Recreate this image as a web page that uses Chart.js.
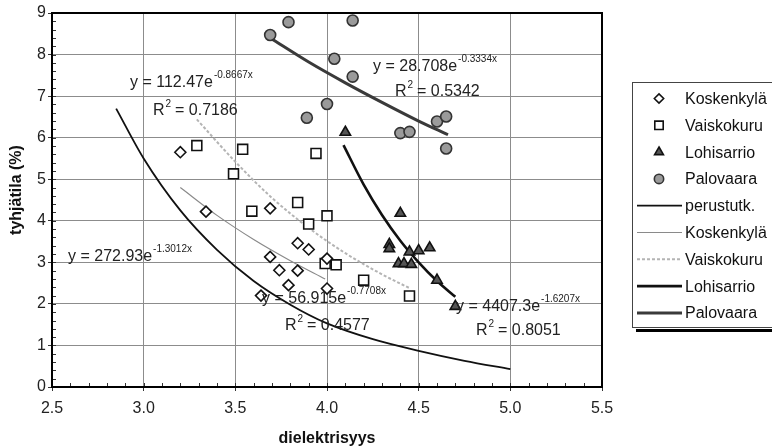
<!DOCTYPE html>
<html>
<head>
<meta charset="utf-8">
<script src="https://cdn.jsdelivr.net/npm/chart.js@4.4.0/dist/chart.umd.min.js"></script>
<style>
html, body { margin: 0; padding: 0; background: #fff; }
#wrap { width: 772px; height: 448px; }
</style>
</head>
<body>
<div id="wrap"><canvas id="chart" width="772" height="448"></canvas></div>
<script>
// measured points (dielektrisyys, tyhjätila %)
var koskenX = [3.2, 3.34, 3.69, 3.84, 3.9, 3.69, 3.74, 3.84, 3.79, 4.0, 3.64, 4.0];
var koskenY = [5.65, 4.22, 4.3, 3.46, 3.31, 3.13, 2.81, 2.8, 2.45, 2.37, 2.2, 3.09];

var vaiskoX = [3.29, 3.54, 3.94, 3.49, 3.59, 3.84, 4.0, 3.9, 3.99, 4.05, 4.2, 4.45];
var vaiskoY = [5.81, 5.72, 5.62, 5.13, 4.23, 4.44, 4.12, 3.92, 2.97, 2.94, 2.57, 2.19];

var lohiX = [4.1, 4.4, 4.34, 4.34, 4.45, 4.5, 4.56, 4.39, 4.42, 4.46, 4.6, 4.7];
var lohiY = [6.13, 4.18, 3.43, 3.33, 3.25, 3.28, 3.35, 2.97, 2.97, 2.95, 2.57, 1.94];

var paloX = [3.69, 3.79, 4.14, 4.04, 4.14, 4.0, 3.89, 4.4, 4.45, 4.6, 4.65, 4.65];
var paloY = [8.47, 8.78, 8.82, 7.9, 7.47, 6.81, 6.48, 6.11, 6.14, 6.39, 6.51, 5.74];

// trend curves
var perusX = [2.85, 3.0, 3.2, 3.4, 3.6, 3.8, 4.0, 4.25, 4.5, 4.75, 5.0];
var perusY = [6.7, 5.5, 4.25, 3.3, 2.55, 1.98, 1.53, 1.15, 0.87, 0.63, 0.43];

var koskenTrendX = [3.2, 3.4, 3.6, 3.8, 3.99];
var koskenTrendY = [4.8, 4.13, 3.55, 3.04, 2.6];

var vaiskoTrendX = [3.29, 3.5, 3.7, 3.9, 4.1, 4.3, 4.45];
var vaiskoTrendY = [6.44, 5.42, 4.55, 3.83, 3.22, 2.71, 2.38];

var lohiTrendX = [4.09, 4.2, 4.3, 4.4, 4.5, 4.6, 4.7];
var lohiTrendY = [5.82, 4.87, 4.14, 3.52, 3.0, 2.55, 2.17];

var paloTrendX = [3.69, 3.9, 4.1, 4.3, 4.5, 4.66];
var paloTrendY = [8.4, 7.82, 7.32, 6.85, 6.4, 6.07];

var legendLabels = ["Koskenkylä", "Vaiskokuru", "Lohisarrio", "Palovaara",
	"perustutk.", "Koskenkylä", "Vaiskokuru", "Lohisarrio", "Palovaara"];

// equation labels: [main, exponent, R2]
var equations = [
	["y = 112.47e", "-0.8667x", "0.7186"],
	["y = 28.708e", "-0.3334x", "0.5342"],
	["y = 272.93e", "-1.3012x", null],
	["y = 56.915e", "-0.7708x", "0.4577"],
	["y = 4407.3e", "-1.6207x", "0.8051"]
];

var FONT = "'Liberation Sans', Arial, sans-serif";

function toPoints(xs, ys) {
	var pts = [];
	for (var i = 0; i < xs.length; ++i) {
		pts.push({ x: xs[i], y: ys[i] });
	}
	return pts;
}

function pointSet(xs, ys, style, radius, fill, border) {
	return {
		data: toPoints(xs, ys),
		showLine: false,
		pointStyle: style,
		pointRadius: radius,
		pointBackgroundColor: fill,
		pointBorderColor: border,
		pointBorderWidth: 1.6
	};
}

function lineSet(xs, ys, color, width, dash) {
	return {
		data: toPoints(xs, ys),
		showLine: true,
		pointRadius: 0,
		borderColor: color,
		borderWidth: width,
		borderDash: dash || [],
		tension: 0.4,
		cubicInterpolationMode: "monotone",
		fill: false
	};
}

var datasets = [
	pointSet(koskenX, koskenY, "rectRot", 5.5, "#fff", "#111"),
	pointSet(vaiskoX, vaiskoY, "rect", 7, "#fff", "#111"),
	pointSet(lohiX, lohiY, "triangle", 6, "#555", "#111"),
	pointSet(paloX, paloY, "circle", 5.5, "#9a9a9a", "#333"),
	lineSet(perusX, perusY, "#111", 1.8),
	lineSet(koskenTrendX, koskenTrendY, "#8a8a8a", 1.2),
	lineSet(vaiskoTrendX, vaiskoTrendY, "#b4b4b4", 2, [3, 2]),
	lineSet(lohiTrendX, lohiTrendY, "#111", 2.6),
	lineSet(paloTrendX, paloTrendY, "#3a3a3a", 3)
];

function drawEq(ctx, x, y, main, sup) {
	ctx.font = "16px " + FONT;
	ctx.fillText(main, x, y);
	var w = ctx.measureText(main).width;
	ctx.font = "10px " + FONT;
	ctx.fillText(sup, x + w + 1, y - 8);
}

function drawR2(ctx, x, y, val) {
	ctx.font = "16px " + FONT;
	ctx.fillText("R", x, y);
	var w = ctx.measureText("R").width;
	ctx.font = "10px " + FONT;
	ctx.fillText("2", x + w + 1, y - 7);
	ctx.font = "16px " + FONT;
	ctx.fillText(" = " + val, x + w + 6, y);
}

var extras = {
	id: "extras",
	afterDraw: function(chart) {
		var ctx = chart.ctx;
		var a = chart.chartArea;
		var xs = chart.scales.x;
		var ys = chart.scales.y;
		var i, p;

		ctx.save();

		// minor ticks along the left and bottom axes
		ctx.strokeStyle = "#333";
		ctx.lineWidth = 1;
		ctx.beginPath();
		for (i = 1; i < 45; ++i) {
			p = Math.round(ys.getPixelForValue(i * 0.2)) + 0.5;
			ctx.moveTo(a.left, p);
			ctx.lineTo(a.left + 4, p);
		}
		for (i = 1; i < 30; ++i) {
			p = Math.round(xs.getPixelForValue(2.5 + i * 0.1)) + 0.5;
			ctx.moveTo(p, a.bottom);
			ctx.lineTo(p, a.bottom - 4);
		}
		ctx.stroke();

		// plot frame
		ctx.strokeStyle = "#000";
		ctx.lineWidth = 2;
		ctx.strokeRect(a.left, a.top, a.right - a.left, a.bottom - a.top);

		// y title
		ctx.fillStyle = "#111";
		ctx.font = "bold 16px " + FONT;
		ctx.textAlign = "center";
		ctx.textBaseline = "middle";
		ctx.translate(17, 190);
		ctx.rotate(-Math.PI / 2);
		ctx.fillText("tyhjätila (%)", 0, 0);
		ctx.setTransform(1, 0, 0, 1, 0, 0);

		// trend equations
		ctx.textAlign = "left";
		ctx.textBaseline = "middle";
		ctx.fillStyle = "#222";
		drawEq(ctx, 130, 83, equations[0][0], equations[0][1]);
		drawR2(ctx, 153, 111, equations[0][2]);
		drawEq(ctx, 373, 67, equations[1][0], equations[1][1]);
		drawR2(ctx, 395, 92, equations[1][2]);
		drawEq(ctx, 68, 257, equations[2][0], equations[2][1]);
		drawEq(ctx, 262, 299, equations[3][0], equations[3][1]);
		drawR2(ctx, 285, 326, equations[3][2]);
		drawEq(ctx, 456, 307, equations[4][0], equations[4][1]);
		drawR2(ctx, 476, 331, equations[4][2]);

		// legend box
		ctx.fillStyle = "#fff";
		ctx.fillRect(632, 82, 150, 245);
		ctx.strokeStyle = "#444";
		ctx.lineWidth = 1;
		ctx.strokeRect(632.5, 82.5, 150, 245);
		ctx.strokeStyle = "#000";
		ctx.lineWidth = 3;
		ctx.beginPath();
		ctx.moveTo(636, 330.5);
		ctx.lineTo(772, 330.5);
		ctx.stroke();

		for (i = 0; i < legendLabels.length; ++i) {
			var cy = 98.5 + i * 26.8;
			var ds = chart.data.datasets[i];
			if (ds.showLine) {
				ctx.strokeStyle = ds.borderColor;
				ctx.lineWidth = ds.borderWidth;
				ctx.setLineDash(ds.borderDash);
				ctx.beginPath();
				ctx.moveTo(637, cy);
				ctx.lineTo(682, cy);
				ctx.stroke();
				ctx.setLineDash([]);
			} else {
				ctx.fillStyle = ds.pointBackgroundColor;
				ctx.strokeStyle = ds.pointBorderColor;
				ctx.lineWidth = ds.pointBorderWidth;
				Chart.helpers.drawPoint(ctx, {
					pointStyle: ds.pointStyle,
					radius: ds.pointRadius * 0.85,
					rotation: 0,
					borderWidth: ds.pointBorderWidth
				}, 659, cy);
			}
			ctx.fillStyle = "#111";
			ctx.font = "16px " + FONT;
			ctx.textAlign = "left";
			ctx.textBaseline = "middle";
			ctx.fillText(legendLabels[i], 685, cy + 1);
		}

		ctx.restore();
	}
};

new Chart(document.getElementById("chart"), {
	type: "scatter",
	data: { datasets: datasets },
	options: {
		responsive: false,
		animation: false,
		layout: { padding: { left: 0, top: 13, right: 170, bottom: 0 } },
		plugins: {
			legend: { display: false },
			tooltip: { enabled: false }
		},
		scales: {
			x: {
				type: "linear",
				min: 2.5,
				max: 5.5,
				afterFit: function(scale) { scale.height = 61; },
				ticks: {
					stepSize: 0.5,
					padding: 8,
					maxRotation: 0,
					color: "#222",
					font: { family: FONT, size: 16 },
					callback: function(v) { return v.toFixed(1); }
				},
				grid: { color: "#8c8c8c", lineWidth: 1, tickLength: 4, tickColor: "#333" },
				border: { display: false },
				title: {
					display: true,
					text: "dielektrisyys",
					color: "#111",
					font: { family: FONT, size: 16, weight: "bold" },
					padding: 0
				}
			},
			y: {
				type: "linear",
				min: 0,
				max: 9,
				afterFit: function(scale) { scale.width = 52; },
				ticks: {
					stepSize: 1,
					padding: 2,
					color: "#222",
					font: { family: FONT, size: 16 }
				},
				grid: { color: "#8c8c8c", lineWidth: 1, tickLength: 4, tickColor: "#333" },
				border: { display: false }
			}
		}
	},
	plugins: [extras]
});
</script>
</body>
</html>
